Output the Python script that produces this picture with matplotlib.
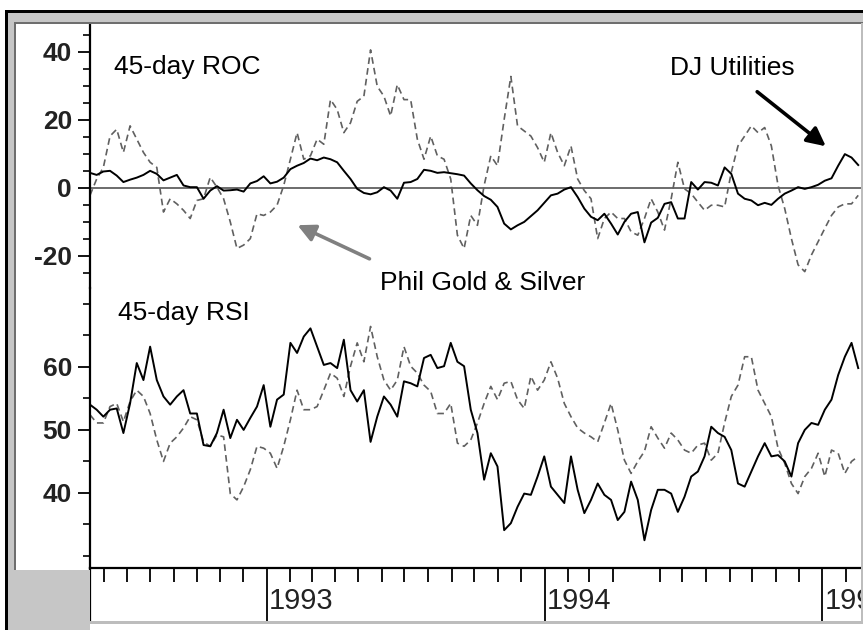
import pandas as pd
import matplotlib
matplotlib.use("Agg")
import matplotlib.pyplot as plt
from matplotlib.patches import Rectangle, FancyArrowPatch

plt.rcParams['font.family'] = ['Liberation Sans', 'DejaVu Sans']
plt.rcParams['axes.unicode_minus'] = False

# sample dates (about every 9 days) across the chart
dates = pd.date_range("1992-05-14", "1995-02-17", periods=116)

# 45-day rate of change, DJ Utilities (solid)
dju_roc = [4.4, 3.8, 4.8, 5.0, 3.6, 1.7, 2.4, 3.0, 3.8, 5.0, 4.1, 2.2, 3.0, 3.8, 0.7, 0.2, 0.2, -3.2, -0.8, 0.5,
           -0.8, -0.7, -0.5, -1.1, 1.3, 2.0, 3.4, 1.3, 1.8, 3.0, 5.5, 6.5, 7.3, 8.6, 8.1, 8.9, 8.4, 7.5, 5.0,
           2.6, -0.3, -1.5, -1.9, -1.3, 0.2, -0.8, -3.2, 1.5, 1.7, 2.6, 5.3, 5.0, 4.4, 4.6, 4.3, 4.0, 3.6, 1.3, -0.7,
           -2.4, -3.5, -5.6, -10.5, -12.2, -11.0, -10.0, -8.3, -6.6, -4.4, -2.2, -1.7, -0.5, 0.2, -2.7, -6.1, -8.5, -9.5, -7.6,
           -10.5, -13.7, -10.0, -7.6, -7.1, -16.0, -10.2, -8.8, -4.7, -4.2, -9.0, -9.0, 1.7, -0.5, 1.7, 1.5, 0.7, 6.0, 4.1, -1.7,
           -3.2, -3.7, -5.1, -4.4, -5.0, -3.2, -1.7, -0.8, 0.2, -0.3, 0.2, 0.9, 2.1, 2.8, 6.5, 9.9, 8.9, 6.7]

# 45-day rate of change, Phil Gold & Silver (dashed)
phil_roc = [-2.2, 2.6, 6.0, 15.2, 17.2, 10.4, 18.2, 14.3, 10.4, 7.5, 6.0, -7.1, -3.2, -4.7, -6.6, -9.0, -3.7, -3.2, 3.1, 0.2,
            -3.2, -10.0, -17.8, -16.8, -14.9, -7.6, -8.1, -7.1, -5.1, 0.7, 8.4, 16.2, 8.4, 9.4, 14.3, 12.8, 25.9, 23.0, 16.2,
            19.1, 25.4, 26.9, 40.5, 29.8, 26.9, 21.1, 30.3, 25.9, 25.9, 14.3, 8.4, 15.2, 9.4, 8.4, 2.6, -13.9, -17.8, -8.1, -11.0,
            0.7, 9.4, 6.5, 20.1, 32.7, 18.2, 16.7, 15.2, 11.8, 7.5, 16.2, 10.4, 6.5, 12.3, 2.6, -0.8, -3.2, -14.9, -9.0,
            -7.1, -9.0, -9.0, -12.9, -13.9, -9.0, -3.2, -7.1, -12.4, -3.2, 7.5, -0.3, -1.7, -4.2, -6.6, -5.1, -5.1, -5.6, 4.6, 12.3,
            15.2, 18.2, 16.2, 17.7, 12.3, 0.7, -6.1, -14.9, -22.6, -24.6, -19.7, -15.8, -11.9, -8.1, -5.6, -4.7, -4.7, -2.2]

# 45-day RSI, DJ Utilities (solid)
dju_rsi = [54.0, 53.2, 52.1, 53.2, 53.4, 49.5, 54.2, 60.6, 57.9, 63.2, 57.9, 55.3, 54.0, 55.3, 56.3, 52.6, 52.6, 47.6, 47.4, 49.5,
           53.2, 48.7, 51.6, 50.0, 51.9, 53.7, 57.1, 50.5, 54.8, 55.6, 63.8, 62.2, 64.8, 66.1, 63.2, 60.3, 60.6, 59.8, 64.3,
           56.3, 54.5, 56.3, 48.1, 52.1, 55.3, 54.0, 52.1, 57.7, 57.4, 56.9, 61.4, 61.9, 59.8, 60.1, 63.8, 60.8, 60.1, 53.2, 49.5,
           42.1, 46.3, 44.2, 34.1, 35.2, 37.8, 39.9, 39.7, 42.6, 45.8, 41.0, 39.7, 38.4, 45.8, 40.5, 36.8, 38.9, 41.5, 39.7,
           38.9, 35.7, 37.0, 41.8, 38.9, 32.5, 37.3, 40.5, 40.5, 39.9, 37.0, 39.4, 42.6, 43.4, 45.8, 50.5, 49.5, 48.9, 46.8, 41.5,
           41.0, 43.4, 45.8, 47.9, 45.8, 46.0, 45.0, 42.6, 47.9, 50.0, 51.1, 50.8, 53.2, 54.8, 58.7, 61.6, 63.8, 59.8]

# 45-day RSI, Phil Gold & Silver (dashed)
phil_rsi = [52.4, 51.1, 51.1, 53.7, 54.2, 51.3, 54.5, 56.3, 55.3, 52.6, 48.4, 45.0, 47.9, 48.9, 50.3, 52.1, 51.6, 48.1, 47.4, 49.2,
            48.9, 39.9, 38.9, 41.0, 43.7, 47.4, 47.1, 46.3, 43.9, 47.4, 51.6, 56.3, 53.2, 53.2, 53.7, 56.3, 59.0, 58.2, 55.3,
            60.1, 63.8, 60.8, 66.4, 61.6, 57.9, 56.3, 57.9, 63.2, 60.1, 59.0, 57.1, 56.1, 52.6, 52.6, 54.2, 47.9, 47.4, 48.4, 51.1,
            54.2, 56.9, 54.8, 57.4, 57.7, 54.8, 53.4, 58.5, 56.3, 57.9, 60.8, 58.2, 54.2, 52.1, 50.3, 49.5, 48.9, 48.1, 51.1,
            54.2, 50.0, 45.2, 43.1, 45.0, 46.6, 50.5, 48.7, 47.1, 49.5, 48.4, 46.8, 46.3, 47.6, 47.9, 45.2, 46.3, 51.1, 55.3, 57.1,
            61.6, 61.6, 56.3, 54.2, 52.1, 47.1, 44.7, 41.5, 39.9, 42.6, 43.9, 46.3, 42.6, 46.8, 46.3, 43.1, 45.0, 45.8]

roc_ticks = [40, 20, 0, -20]
rsi_ticks = [60, 50, 40]
year_labels = ["1993", "1994", "1995"]

W, H = 863, 630
fig = plt.figure(figsize=(W / 100, H / 100), dpi=100)


def box(x0, y0, x1, y1):
    # pixel box with top-left origin -> figure fraction rect
    return [x0 / W, 1 - y1 / H, (x1 - x0) / W, (y1 - y0) / H]


def fpt(x, y):
    return (x / W, 1 - y / H)


# window frame
frame_gray = '#c6c6c6'
for r in [box(8, 13, 863, 22), box(8, 13, 14, 630), box(8, 570, 90, 630)]:
    fig.add_artist(Rectangle(r[:2], r[2], r[3], transform=fig.transFigure, color=frame_gray, lw=0))
for r in [box(5, 10, 863, 13), box(5, 10, 8, 630)]:
    fig.add_artist(Rectangle(r[:2], r[2], r[3], transform=fig.transFigure, color='black', lw=0))
for r in [box(14, 22, 863, 23.5), box(14, 22, 15.5, 570)]:
    fig.add_artist(Rectangle(r[:2], r[2], r[3], transform=fig.transFigure, color='#6e6e6e', lw=0))
for r in [box(90, 621, 863, 624), box(860.5, 23, 862.5, 622)]:
    fig.add_artist(Rectangle(r[:2], r[2], r[3], transform=fig.transFigure, color='#bdbdbd', lw=0))

xmin, xmax = pd.Timestamp("1992-05-14"), pd.Timestamp("1995-02-20")

ax1 = fig.add_axes(box(90, 24, 860.5, 288))
ax2 = fig.add_axes(box(90, 288, 860.5, 568))
ax3 = fig.add_axes(box(90, 568, 860.5, 621))

for ax, lo, hi, major, minor in [(ax1, -29.4, 48.1, roc_ticks, range(-25, 50, 5)),
                                 (ax2, 28.1, 72.5, rsi_ticks, range(30, 75, 5))]:
    ax.set_xlim(xmin, xmax)
    ax.set_ylim(lo, hi)
    ax.set_facecolor('none')
    for s in ['top', 'right', 'bottom']:
        ax.spines[s].set_visible(False)
    ax.spines['left'].set_linewidth(1.6)
    ax.set_xticks([])
    ax.set_yticks(major)
    ax.set_yticks([m for m in minor if m not in major], minor=True)
    ax.tick_params(axis='y', which='major', length=9, width=1.3, pad=4)
    ax.tick_params(axis='y', which='minor', length=5, width=1.2)
    for lab in ax.get_yticklabels():
        lab.set_fontsize(19)
        lab.set_fontweight('bold')
        lab.set_color('#222222')

ax1.axhline(0, color='#444444', lw=1.1, zorder=1)
ax1.plot(dates, phil_roc, color='#606060', lw=1.2, ls=(0, (4, 2.5)))
ax1.plot(dates, dju_roc, color='black', lw=1.4)
ax2.plot(dates, phil_rsi, color='#606060', lw=1.2, ls=(0, (4, 2.5)))
ax2.plot(dates, dju_rsi, color='black', lw=1.4)

# date band
months = [d for d in pd.date_range("1992-06-01", "1995-02-01", freq="MS")
          if d.month != 1 and d != pd.Timestamp("1994-05-01")]
years = [pd.Timestamp(f"{y}-01-01") for y in year_labels]
ax3.set_xlim(xmin, xmax)
ax3.set_ylim(0, 1)
ax3.set_facecolor('none')
for s in ['right', 'bottom']:
    ax3.spines[s].set_visible(False)
ax3.spines['top'].set_linewidth(1.6)
ax3.spines['left'].set_linewidth(1.6)
ax3.set_yticks([])
ax3.set_xticks(months)
ax3.xaxis.set_ticks_position('top')
ax3.tick_params(axis='x', direction='in', length=10, width=1.3, labeltop=False)
for d, lab in zip(years, year_labels):
    ax3.axvline(d, color='black', lw=1.3)
    ax3.text(d + pd.Timedelta(days=3), 0.38, lab, ha='left', va='center', fontsize=21,
             color='#222222', clip_on=True)

# panel labels and arrows
fig.text(*fpt(114, 67), "45-day ROC", fontsize=19, va='center', ha='left')
fig.text(*fpt(118, 313), "45-day RSI", fontsize=19, va='center', ha='left')
fig.text(*fpt(670, 68), "DJ Utilities", fontsize=19, va='center', ha='left')
fig.text(*fpt(380, 283), "Phil Gold & Silver", fontsize=19, va='center', ha='left')

fig.add_artist(FancyArrowPatch(fpt(755, 90), fpt(828, 148), transform=fig.transFigure,
                               arrowstyle='-|>', mutation_scale=28, lw=2.6, color='black'))
fig.add_artist(FancyArrowPatch(fpt(372, 260), fpt(295, 224), transform=fig.transFigure,
                               arrowstyle='-|>', mutation_scale=26, lw=2.6, color='#808080'))

plt.savefig("out.png", dpi=100)
